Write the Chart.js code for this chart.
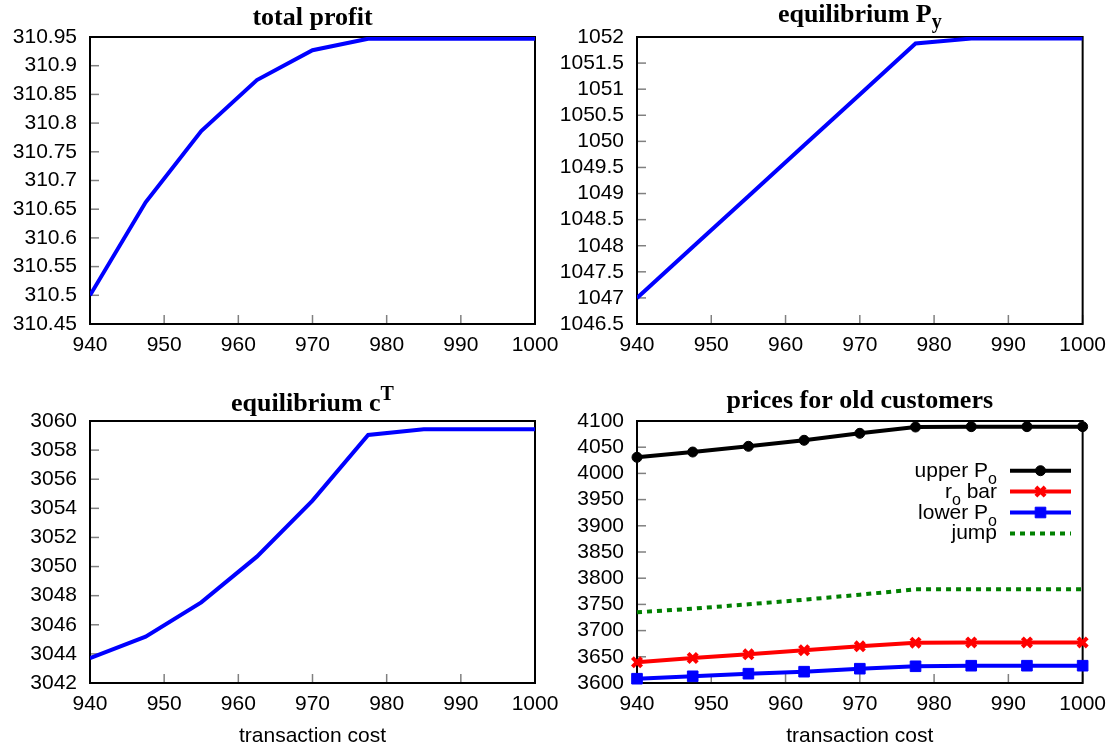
<!DOCTYPE html>
<html><head><meta charset="utf-8">
<script src="https://cdn.jsdelivr.net/npm/chart.js@4.4.1/dist/chart.umd.min.js"></script>
<style>
html,body{margin:0;padding:0;background:#fff;width:1115px;height:750px;overflow:hidden}
.p{position:absolute}
</style></head><body>
<div class="p" style="left:0;top:0;width:580px;height:375px"><canvas id="c1"></canvas></div>
<div class="p" style="left:557px;top:0;width:558px;height:375px"><canvas id="c2"></canvas></div>
<div class="p" style="left:0;top:375px;width:580px;height:375px"><canvas id="c3"></canvas></div>
<div class="p" style="left:557px;top:375px;width:558px;height:375px"><canvas id="c4"></canvas></div>
<script>
// ---------- data ----------
const transactionCost = [940, 947.5, 955, 962.5, 970, 977.5, 985, 992.5, 1000];
const totalProfit   = [310.50, 310.662, 310.786, 310.875, 310.927, 310.947, 310.947, 310.947, 310.947];
const equilibriumPy = [1047.0, 1047.975, 1048.95, 1049.925, 1050.9, 1051.875, 1051.97, 1051.97, 1051.97];
const equilibriumCT = [3043.70, 3045.18, 3047.54, 3050.68, 3054.53, 3059.04, 3059.43, 3059.43, 3059.43];
const upperPo = [4030.7, 4040.8, 4051.7, 4063.2, 4076.5, 4088.5, 4089.2, 4089.2, 4089.2];
const roBar   = [3639.5, 3647.7, 3654.7, 3662.4, 3670.0, 3677.0, 3677.5, 3677.5, 3677.5];
const lowerPo = [3608.2, 3612.8, 3617.8, 3621.6, 3627.3, 3631.9, 3633.0, 3633.0, 3633.0];
const jumpVal = [3735.0, 3741.8, 3750.2, 3759.0, 3768.5, 3778.8, 3779.0, 3779.0, 3779.0];

const xTicks = [940, 950, 960, 970, 980, 990, 1000];
const yTicksProfit = [310.45, 310.5, 310.55, 310.6, 310.65, 310.7, 310.75, 310.8, 310.85, 310.9, 310.95];
const yTicksPy = [1046.5, 1047, 1047.5, 1048, 1048.5, 1049, 1049.5, 1050, 1050.5, 1051, 1051.5, 1052];
const yTicksCT = [3042, 3044, 3046, 3048, 3050, 3052, 3054, 3056, 3058, 3060];
const yTicksPrices = [3600, 3650, 3700, 3750, 3800, 3850, 3900, 3950, 4000, 4050, 4100];

const titles = ['total profit', 'equilibrium P_y', 'equilibrium c^T', 'prices for old customers'];
const seriesLabels = ['upper P_o', 'r_o bar', 'lower P_o', 'jump'];
const xAxisTitle = 'transaction cost';

// ---------- helpers ----------
const pts = ys => ys.map((y, i) => ({x: transactionCost[i], y}));
const SANS = '"Liberation Sans", Arial, sans-serif';
const SERIF = '"Liberation Serif", "Times New Roman", serif';
Chart.defaults.font.family = SANS;
Chart.defaults.font.size = 21;
Chart.defaults.color = '#000';

function parseRich(str) {
  const segs = []; let buf = '';
  for (let i = 0; i < str.length; i++) {
    const c = str[i];
    if ((c === '_' || c === '^') && i + 1 < str.length) {
      if (buf) { segs.push({t: buf, k: 'n'}); buf = ''; }
      segs.push({t: str[i + 1], k: c === '_' ? 'sub' : 'sup'}); i++;
    } else buf += c;
  }
  if (buf) segs.push({t: buf, k: 'n'});
  return segs;
}
function drawRich(ctx, str, x, y, align, f) {
  const segs = parseRich(str);
  const fontFor = k => (f.weight ? f.weight + ' ' : '') + (k === 'n' ? f.size : f.small) + 'px ' + f.family;
  let w = 0;
  segs.forEach(s => { ctx.font = fontFor(s.k); s.w = ctx.measureText(s.t).width; w += s.w; });
  let cx = align === 'center' ? x - w / 2 : align === 'right' ? x - w : x;
  ctx.textAlign = 'left'; ctx.textBaseline = 'alphabetic'; ctx.fillStyle = '#000';
  segs.forEach(s => {
    ctx.font = fontFor(s.k);
    const dy = s.k === 'sub' ? f.subDy : s.k === 'sup' ? f.supDy : 0;
    ctx.fillText(s.t, cx, y + dy);
    cx += s.w;
  });
}

const deco = {
  id: 'deco',
  beforeDatasetsDraw(chart, args, opts) {
    const {ctx, chartArea: a} = chart;
    ctx.save();
    // inward tick marks
    ctx.strokeStyle = '#808080'; ctx.lineWidth = 1.5;
    const xs = chart.scales.x, ys = chart.scales.y;
    xs.ticks.forEach((t, i) => {
      const px = xs.getPixelForValue(t.value);
      ctx.beginPath(); ctx.moveTo(px, a.bottom); ctx.lineTo(px, a.bottom - 9); ctx.stroke();
    });
    ys.ticks.forEach((t, i) => {
      const py = ys.getPixelForValue(t.value);
      ctx.beginPath(); ctx.moveTo(a.left, py); ctx.lineTo(a.left + 9, py); ctx.stroke();
    });
    // border box
    ctx.strokeStyle = '#000'; ctx.lineWidth = 2;
    ctx.strokeRect(a.left, a.top, a.right - a.left, a.bottom - a.top);
    ctx.restore();
  },
  afterDraw(chart, args, opts) {
    const {ctx, chartArea: a} = chart;
    ctx.save();
    drawRich(ctx, opts.title, (a.left + a.right) / 2, opts.titleY, 'center',
      {weight: 'bold', size: 26, small: 20, family: SERIF, subDy: 6, supDy: -11});
    if (opts.legend) {
      const L = opts.legend;
      chart.data.datasets.forEach((ds, i) => {
        const y = L.y0 + i * L.dy;
        drawRich(ctx, ds.label, L.textX, y + 6, 'right',
          {weight: '', size: 21, small: 16, family: SANS, subDy: 7, supDy: -8});
        ctx.save();
        ctx.strokeStyle = ds.borderColor; ctx.lineWidth = ds.borderWidth;
        ctx.setLineDash(ds.borderDash || []);
        ctx.beginPath(); ctx.moveTo(L.x1, y); ctx.lineTo(L.x2, y); ctx.stroke();
        ctx.restore();
        if (ds.pointRadius > 0) {
          ctx.save();
          ctx.fillStyle = ds.pointBackgroundColor || ds.borderColor;
          ctx.strokeStyle = ds.pointBorderColor || ds.borderColor;
          ctx.lineWidth = ds.pointBorderWidth || 1;
          Chart.helpers.drawPoint(ctx, {pointStyle: ds.pointStyle, radius: ds.pointRadius, borderWidth: ds.pointBorderWidth || 1, rotation: 0}, (L.x1 + L.x2) / 2, y);
          ctx.restore();
        }
      });
    }
    ctx.restore();
  }
};

function makeChart(id, datasets, yTicks, geo, decoOpts, withXTitle) {
  new Chart(document.getElementById(id), {
    type: 'line',
    data: {datasets},
    plugins: [deco],
    options: {
      responsive: true, maintainAspectRatio: false, animation: false,
      layout: {padding: {left: 0, right: geo.padR, top: geo.padT, bottom: 0}},
      plugins: {legend: {display: false}, tooltip: {enabled: false}, deco: decoOpts},
      elements: {line: {tension: 0}},
      scales: {
        x: {
          type: 'linear', min: xTicks[0], max: xTicks[xTicks.length - 1],
          afterBuildTicks: s => { s.ticks = xTicks.map(v => ({value: v})); },
          afterFit: s => { s.height = geo.xH; },
          grid: {display: false, drawTicks: false}, border: {display: false},
          ticks: {padding: 9, autoSkip: false, maxRotation: 0, color: '#000', callback: v => String(v)},
          title: {display: !!withXTitle, text: xAxisTitle, font: {size: 21}, color: '#000', padding: {top: 0, bottom: 1}}
        },
        y: {
          type: 'linear', min: yTicks[0], max: yTicks[yTicks.length - 1],
          afterBuildTicks: s => { s.ticks = yTicks.map(v => ({value: v})); },
          afterFit: s => { s.width = geo.yW; },
          grid: {display: false, drawTicks: false}, border: {display: false},
          ticks: {padding: 13, autoSkip: false, color: '#000', callback: v => String(parseFloat(Number(v).toFixed(3)))}
        }
      }
    }
  });
}

const blueLine = data => ({label: '', data: pts(data), borderColor: '#0000ff', borderWidth: 4, pointRadius: 0, fill: false});
const geoL = {padR: 45, padT: 37, yW: 90, xH: 51};
const geoR = {padR: 32, padT: 37, yW: 80, xH: 51};

makeChart('c1', [blueLine(totalProfit)], yTicksProfit, geoL, {title: titles[0], titleY: 25});
makeChart('c2', [blueLine(equilibriumPy)], yTicksPy, geoR, {title: titles[1], titleY: 22});
makeChart('c3', [blueLine(equilibriumCT)], yTicksCT, {padR: 45, padT: 46, yW: 90, xH: 67}, {title: titles[2], titleY: 36}, true);
makeChart('c4', [
  {label: seriesLabels[0], data: pts(upperPo), borderColor: '#000000', backgroundColor: '#000000', borderWidth: 4,
   pointStyle: 'circle', pointRadius: 5, pointBackgroundColor: '#000000', pointBorderColor: '#000000', pointBorderWidth: 1, clip: false},
  {label: seriesLabels[1], data: pts(roBar), borderColor: '#ff0000', backgroundColor: '#ff0000', borderWidth: 4,
   pointStyle: 'crossRot', pointRadius: 6.5, pointBorderColor: '#ff0000', pointBorderWidth: 4, clip: false},
  {label: seriesLabels[2], data: pts(lowerPo), borderColor: '#0000ff', backgroundColor: '#0000ff', borderWidth: 4,
   pointStyle: 'rect', pointRadius: 7.5, pointBackgroundColor: '#0000ff', pointBorderColor: '#0000ff', pointBorderWidth: 1, clip: false},
  {label: seriesLabels[3], data: pts(jumpVal), borderColor: '#008000', borderWidth: 4, borderDash: [5, 5],
   pointRadius: 0, clip: false}
], yTicksPrices, {padR: 32, padT: 46, yW: 80, xH: 67},
  {title: titles[3], titleY: 33, legend: {y0: 95.7, dy: 20.9, textX: 440, x1: 453, x2: 514}}, true);
</script>
</body></html>
